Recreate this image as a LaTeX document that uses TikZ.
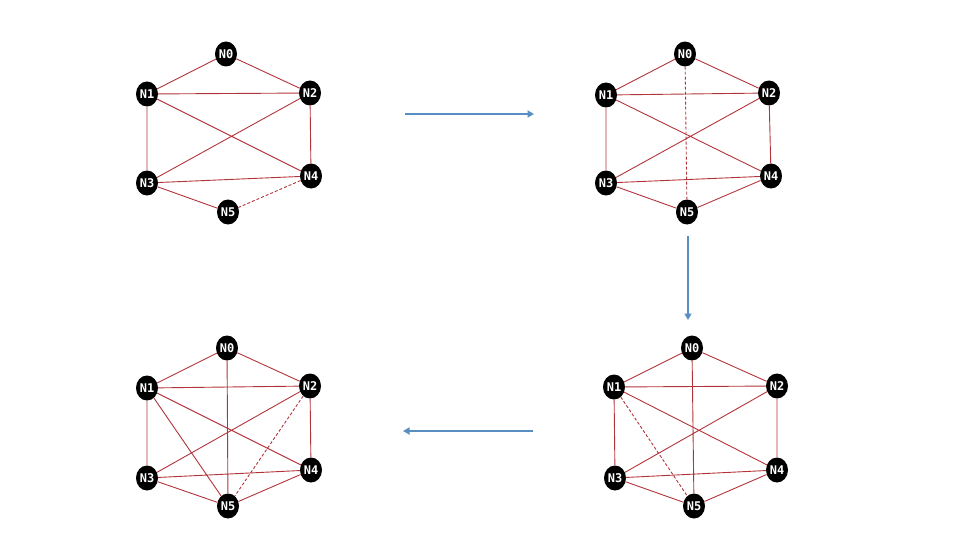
\documentclass[tikz,border=0pt]{standalone}
\usepackage{fontspec}
\newfontfamily\nodefont{DejaVu Sans Mono}
\usetikzlibrary{shapes.geometric,arrows.meta}
\definecolor{edgered}{RGB}{178,52,58}
\definecolor{arrowblue}{RGB}{88,142,194}
\begin{document}
\begin{tikzpicture}[x=1pt,y=-1pt,
  vtx/.style={ellipse,fill=black,text=white,minimum width=22pt,minimum height=25pt,inner sep=0pt,font=\nodefont\bfseries\fontsize{12}{12}\selectfont},
  edge/.style={draw=edgered,line width=0.9pt},
  dedge/.style={edge,dash pattern=on 3pt off 2pt},
  flow/.style={draw=arrowblue,line width=1.8pt,-{Triangle[length=6.5pt,width=7pt]}}]
\useasboundingbox (0,0) rectangle (960,540);
% top-left
\node[vtx] (a0) at (226,54) {N0};
\node[vtx] (a1) at (147,94) {N1};
\node[vtx] (a2) at (310,93) {N2};
\node[vtx] (a3) at (147,183) {N3};
\node[vtx] (a4) at (311,176) {N4};
\node[vtx] (a5) at (228,212) {N5};
\draw[edge] (a0)--(a1) (a0)--(a2) (a1)--(a2) (a1)--(a3) (a1)--(a4) (a2)--(a3) (a2)--(a4) (a3)--(a4) (a3)--(a5);
\draw[dedge] (a4)--(a5);
% top-right
\node[vtx] (b0) at (685,54) {N0};
\node[vtx] (b1) at (606,95) {N1};
\node[vtx] (b2) at (769,93) {N2};
\node[vtx] (b3) at (606,183) {N3};
\node[vtx] (b4) at (771,176) {N4};
\node[vtx] (b5) at (687,212) {N5};
\draw[edge] (b0)--(b1) (b0)--(b2) (b1)--(b2) (b1)--(b3) (b1)--(b4) (b2)--(b3) (b2)--(b4) (b3)--(b4) (b3)--(b5) (b4)--(b5);
\draw[dedge] (b0)--(b5);
% bottom-right
\node[vtx] (d0) at (692,348) {N0};
\node[vtx] (d1) at (614,387) {N1};
\node[vtx] (d2) at (777,386) {N2};
\node[vtx] (d3) at (615,478) {N3};
\node[vtx] (d4) at (777,470) {N4};
\node[vtx] (d5) at (694,506) {N5};
\draw[edge] (d0)--(d1) (d0)--(d2) (d1)--(d2) (d1)--(d3) (d1)--(d4) (d2)--(d3) (d2)--(d4) (d3)--(d4) (d3)--(d5) (d4)--(d5) (d0)--(d5);
\draw[dedge] (d1)--(d5);
% bottom-left
\node[vtx] (c0) at (227,348) {N0};
\node[vtx] (c1) at (147,388) {N1};
\node[vtx] (c2) at (310,386) {N2};
\node[vtx] (c3) at (147,478) {N3};
\node[vtx] (c4) at (311,470) {N4};
\node[vtx] (c5) at (228,506) {N5};
\draw[edge] (c0)--(c1) (c0)--(c2) (c1)--(c2) (c1)--(c3) (c1)--(c4) (c2)--(c3) (c2)--(c4) (c3)--(c4) (c3)--(c5) (c4)--(c5) (c0)--(c5) (c1)--(c5);
\draw[dedge] (c2)--(c5);
% arrows
\coordinate (t1) at (405,114);
\coordinate (t2) at (534,114);
\coordinate (r1) at (688,236);
\coordinate (r2) at (688,320);
\coordinate (l1) at (533,431);
\coordinate (l2) at (403,431);
\draw[flow] (t1)--(t2);
\draw[flow] (r1)--(r2);
\draw[flow] (l1)--(l2);
\end{tikzpicture}
\end{document}
